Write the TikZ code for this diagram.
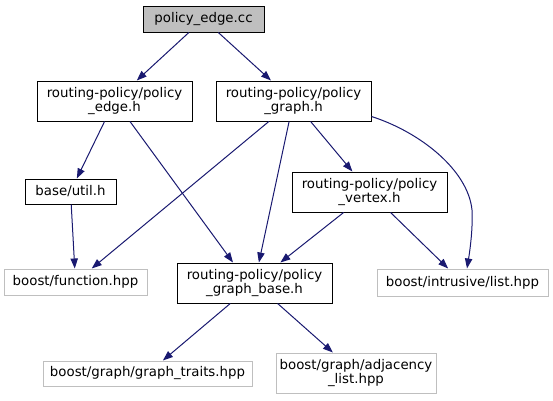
\documentclass[tikz,border=0pt]{standalone}
\usepackage{fontspec}
\setmainfont{DejaVu Sans}
\usetikzlibrary{arrows.meta,calc}
\definecolor{edgeblue}{HTML}{191970}
\definecolor{boxgray}{HTML}{BFBFBF}
\begin{document}
\begin{tikzpicture}[x=0.75pt,y=-0.75pt,
  filebox/.style={draw=black,line width=0.75pt,fill=white,inner sep=0pt,align=center,
    font=\fontsize{10}{11}\selectfont},
  extbox/.style={filebox,draw=boxgray},
  curbox/.style={filebox,fill=boxgray},
  edge/.style={draw=edgeblue,line width=0.75pt,-{Triangle[length=7.5pt,width=5.5pt]}}]
\useasboundingbox (0,0) rectangle (553,400);
\node[curbox,minimum width=121*0.75pt,minimum height=26*0.75pt] (cc) at (203.5,19) {policy\_edge.cc};
\node[filebox,minimum width=155*0.75pt,minimum height=40*0.75pt] (eh) at (114.5,101) {routing-policy/policy\\\_edge.h};
\node[filebox,minimum width=155*0.75pt,minimum height=40*0.75pt] (gh) at (293.5,101) {routing-policy/policy\\\_graph.h};
\node[filebox,minimum width=91*0.75pt,minimum height=25*0.75pt] (ut) at (70.5,191.5) {base/util.h};
\node[filebox,minimum width=155*0.75pt,minimum height=40*0.75pt] (vh) at (369.5,192) {routing-policy/policy\\\_vertex.h};
\node[extbox,minimum width=143*0.75pt,minimum height=26*0.75pt] (fn) at (75.5,282) {boost/function.hpp};
\node[filebox,minimum width=155*0.75pt,minimum height=40*0.75pt] (gb) at (254.5,283) {routing-policy/policy\\\_graph\_base.h};
\node[extbox,minimum width=171*0.75pt,minimum height=27*0.75pt] (lh) at (462.5,282.5) {boost/intrusive/list.hpp};
\node[extbox,minimum width=209*0.75pt,minimum height=25*0.75pt] (gt) at (147.5,373.5) {boost/graph/graph\_traits.hpp};
\node[extbox,minimum width=160*0.75pt,minimum height=40*0.75pt] (aj) at (356,373) {boost/graph/adjacency\\\_list.hpp};
\coordinate (c8) at (472,210);

\draw[edge] (cc) -- (eh);
\draw[edge] (cc) -- (gh);
\draw[edge] (eh) -- (ut);
\draw[edge] ($(eh.south)+(15.5,0)$) -- ($(gb.north)+(-21.5,0)$);
\draw[edge] (gh) -- (fn);
\draw[edge] (gh) -- (gb);
\draw[edge] (gh) -- (vh);
\draw[edge] ($(gh.south east)+(0,-5)$) .. controls (420,132) and (468,170) .. (c8)
  .. controls (473,228) and (470,250) .. ($(lh.north)+(4.5,0)$);
\draw[edge] (vh) -- (gb);
\draw[edge] (vh) -- (lh);
\draw[edge] (ut) -- (fn);
\draw[edge] (gb) -- (gt);
\draw[edge] (gb) -- (aj);
\end{tikzpicture}
\end{document}
